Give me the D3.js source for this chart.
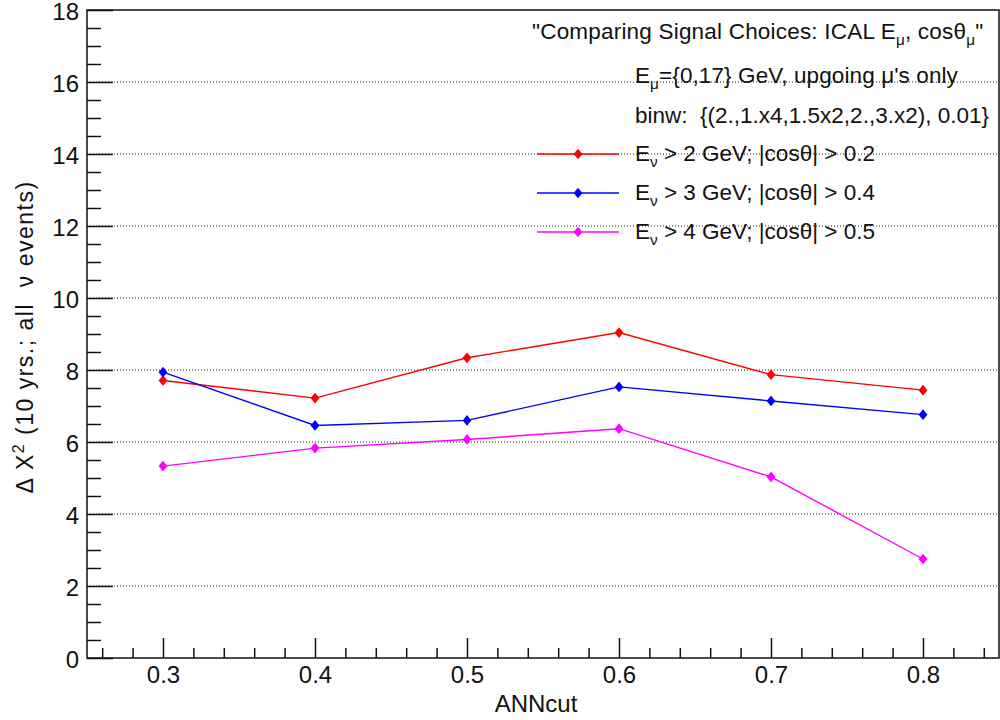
<!DOCTYPE html>
<html>
<head>
<meta charset="utf-8">
<script src="https://cdn.jsdelivr.net/npm/d3@7"></script>
<style>
  html, body { margin: 0; padding: 0; background: #fff; }
  svg { display: block; }
  text { font-family: "Liberation Sans", Arial, Helvetica, sans-serif; fill: #111; white-space: pre; }
</style>
</head>
<body>
<svg id="chart" width="1000" height="720"></svg>
<script>
// ANN cut values on the x axis
const annCut = [0.3, 0.4, 0.5, 0.6, 0.7, 0.8];

// Delta chi^2 for each signal selection
const chiE2cos02 = [7.71, 7.22, 8.34, 9.04, 7.87, 7.44];
const chiE3cos04 = [7.94, 6.46, 6.60, 7.53, 7.14, 6.76];
const chiE4cos05 = [5.33, 5.83, 6.07, 6.37, 5.03, 2.75];

// Axis ticks
const xMajorTicks = [0.3, 0.4, 0.5, 0.6, 0.7, 0.8];
const xMinorTicks = [0.26, 0.28, 0.32, 0.34, 0.36, 0.38, 0.42, 0.44, 0.46, 0.48,
                     0.52, 0.54, 0.56, 0.58, 0.62, 0.64, 0.66, 0.68, 0.72, 0.74,
                     0.76, 0.78, 0.82, 0.84];
const yMajorTicks = [0, 2, 4, 6, 8, 10, 12, 14, 16, 18];
const yMinorTicks = [0.5, 1, 1.5, 2.5, 3, 3.5, 4.5, 5, 5.5, 6.5, 7, 7.5, 8.5, 9, 9.5,
                     10.5, 11, 11.5, 12.5, 13, 13.5, 14.5, 15, 15.5, 16.5, 17, 17.5];

// Legend entries: [main, subscript, rest]
const seriesNames = [
  ["E", "ν", " > 2 GeV; |cosθ| > 0.2"],
  ["E", "ν", " > 3 GeV; |cosθ| > 0.4"],
  ["E", "ν", " > 4 GeV; |cosθ| > 0.5"]
];
const seriesColors = ["#ff0000", "#0000ff", "#ff00ff"];
const seriesValues = [chiE2cos02, chiE3cos04, chiE4cos05];

// Header lines, as segments of {t: text, sub: bool}
const headerLines = [
  [{t: "\"Comparing Signal Choices: ICAL E"}, {t: "μ", sub: true}, {t: ", cosθ"}, {t: "μ", sub: true}, {t: "\""}],
  [{t: "E"}, {t: "μ", sub: true}, {t: "={0,17} GeV, upgoing μ's only"}],
  [{t: "binw:  {(2.,1.x4,1.5x2,2.,3.x2), 0.01}"}]
];

const xTitle = "ANNcut";

const svg = d3.select("#chart");
const plotL = 87, plotR = 999, plotT = 10, plotB = 658;

const x = d3.scaleLinear().domain([0.25, 0.85]).range([plotL, plotR]);
const y = d3.scaleLinear().domain([0, 18]).range([plotB, plotT]);

// Dotted horizontal grid
svg.append("g")
  .selectAll("line")
  .data(yMajorTicks.filter(d => d > 0 && d < 18))
  .join("line")
  .attr("x1", plotL).attr("x2", plotR)
  .attr("y1", d => y(d)).attr("y2", d => y(d))
  .attr("stroke", "#222")
  .attr("stroke-width", 1)
  .attr("stroke-dasharray", "1,2");

// Diamond marker shape
const diamond = {
  draw(ctx, size) {
    const h = Math.sqrt(size) * 0.6, w = h * 0.82;
    ctx.moveTo(0, -h); ctx.lineTo(w, 0); ctx.lineTo(0, h); ctx.lineTo(-w, 0); ctx.closePath();
  }
};
const marker = d3.symbol().type(diamond).size(80);

// Data series
const line = d3.line().x((d, i) => x(annCut[i])).y(d => y(d));
seriesValues.forEach((vals, k) => {
  const g = svg.append("g");
  g.append("path")
    .attr("d", line(vals))
    .attr("fill", "none")
    .attr("stroke", seriesColors[k])
    .attr("stroke-width", 1.4);
  g.selectAll("path.m")
    .data(vals)
    .join("path")
    .attr("class", "m")
    .attr("transform", (d, i) => `translate(${x(annCut[i])},${y(d)})`)
    .attr("d", marker)
    .attr("fill", seriesColors[k]);
});

// Axes
const fontFam = '"Liberation Sans", Arial, Helvetica, sans-serif';
function styleAxis(g, fs) {
  g.select(".domain").remove();
  g.selectAll(".tick line").attr("stroke", "#111").attr("stroke-width", 1.5);
  g.selectAll("text").attr("font-size", fs).attr("font-family", fontFam).attr("fill", "#111");
}

svg.append("g")
  .attr("transform", `translate(0,${plotB})`)
  .call(d3.axisBottom(x).tickValues(xMajorTicks).tickSizeInner(-20).tickSizeOuter(0)
        .tickPadding(8).tickFormat(d3.format(".1f")))
  .call(g => styleAxis(g, 24));
svg.append("g")
  .attr("transform", `translate(0,${plotB})`)
  .call(d3.axisBottom(x).tickValues(xMinorTicks).tickSizeInner(-10).tickSizeOuter(0).tickFormat(""))
  .call(g => styleAxis(g, 24));

svg.append("g")
  .attr("transform", `translate(${plotL},0)`)
  .call(d3.axisLeft(y).tickValues(yMajorTicks).tickSizeInner(-26).tickSizeOuter(0)
        .tickPadding(8).tickFormat(d3.format("d")))
  .call(g => styleAxis(g, 24))
  .call(g => g.selectAll("text").attr("dy", "0.4em"));
svg.append("g")
  .attr("transform", `translate(${plotL},0)`)
  .call(d3.axisLeft(y).tickValues(yMinorTicks).tickSizeInner(-14).tickSizeOuter(0).tickFormat(""))
  .call(g => styleAxis(g, 24));

// Frame
svg.append("rect")
  .attr("x", plotL).attr("y", plotT)
  .attr("width", plotR - plotL).attr("height", plotB - plotT)
  .attr("fill", "none").attr("stroke", "#111").attr("stroke-width", 1.5);

// Axis titles
svg.append("text")
  .attr("x", (plotL + plotR) / 2 - 7).attr("y", 712)
  .attr("text-anchor", "middle")
  .attr("font-size", 24)
  .text(xTitle);

const yt = svg.append("text")
  .attr("transform", `translate(33,337) rotate(-90)`)
  .attr("text-anchor", "middle")
  .attr("font-size", 23)
  .attr("letter-spacing", 1.5);
yt.append("tspan").text("Δ X");
yt.append("tspan").attr("dy", -9).attr("font-size", 16).text("2");
yt.append("tspan").attr("dy", 9).text(" (10 yrs.; all  ν events)");

// Rich text helper (subscripts)
function richText(sel, segs, fs) {
  let shifted = false;
  segs.forEach(s => {
    const ts = sel.append("tspan").text(s.t);
    if (s.sub && !shifted) { ts.attr("dy", 6).attr("font-size", fs * 0.68); shifted = true; }
    else if (!s.sub && shifted) { ts.attr("dy", -6); shifted = false; }
  });
}

// Header text
const headerY = [39, 83, 123];
const headerX = [532, 635, 635];
const headerSpacing = [0.2, 0.1, 0];
headerLines.forEach((segs, i) => {
  const t = svg.append("text").attr("x", headerX[i]).attr("y", headerY[i])
    .attr("font-size", 22.5).attr("letter-spacing", headerSpacing[i]);
  richText(t, segs, 22.5);
});

// Legend entries
const legendY = [154, 193, 232];
seriesNames.forEach((nm, k) => {
  const ly = legendY[k];
  svg.append("line")
    .attr("x1", 537).attr("x2", 619).attr("y1", ly).attr("y2", ly)
    .attr("stroke", seriesColors[k]).attr("stroke-width", 1.6);
  svg.append("path")
    .attr("transform", `translate(578,${ly})`)
    .attr("d", marker)
    .attr("fill", seriesColors[k]);
  const t = svg.append("text").attr("x", 635).attr("y", ly + 7).attr("font-size", 22.5);
  richText(t, [{t: nm[0]}, {t: nm[1], sub: true}, {t: nm[2]}], 22.5);
});
</script>
</body>
</html>
